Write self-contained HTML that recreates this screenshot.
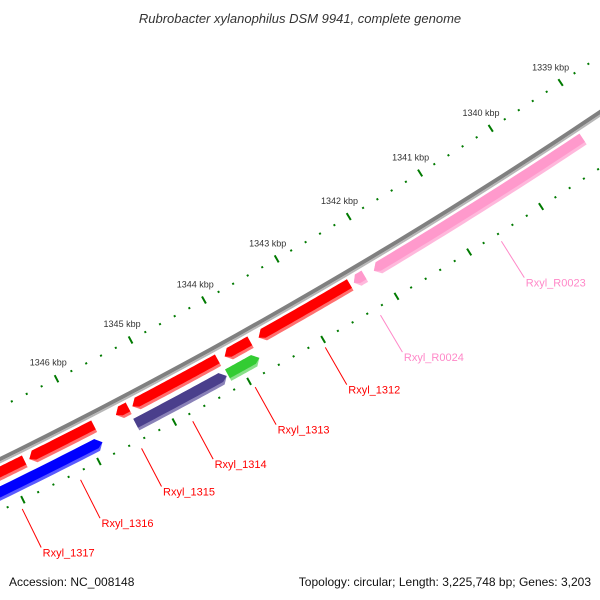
<!DOCTYPE html>
<html><head><meta charset="utf-8"><style>
html,body{margin:0;padding:0;background:#fff;}
svg{display:block;}
</style></head><body>
<svg id="map" width="600" height="600" viewBox="0 0 600 600" xmlns="http://www.w3.org/2000/svg" style="font-family:'Liberation Sans',sans-serif">
<rect width="600" height="600" fill="#fff"/>
<text x="300" y="23" text-anchor="middle" font-size="13" font-style="italic" fill="#333">Rubrobacter xylanophilus DSM 9941, complete genome</text>
<g id="plot"></g>
<text x="9" y="586" font-size="12" fill="#111">Accession: NC_008148</text>
<text x="591" y="586" font-size="12" fill="#111" text-anchor="end">Topology: circular; Length: 3,225,748 bp; Genes: 3,203</text>
</svg>
<script>
// ---- data ----
var featureNames = ["Rxyl_R0023","Rxyl_R0024","Rxyl_1312","feat_b","feat_c","Rxyl_1315","Rxyl_1316","Rxyl_1317","Rxyl_1313","Rxyl_1314","feat_i"];
var featureStart = [1339150,1342200,1342400,1343760,1344200,1345400,1345860,1346780,1343760,1344200,1345860];
var featureEnd   = [1342075,1342350,1343650,1344110,1345350,1345570,1346720,1347330,1344180,1345410,1348500];
var featureStrand = [1,1,1,1,1,1,1,1,-1,-1,-1];
var featureColor = ["#ff99cc","#ff99cc","#ff0000","#ff0000","#ff0000","#ff0000","#ff0000","#ff0000","#33cc33","#4a3f8c","#0000ff"];
var featureLight = ["#ffb8dc","#ffb8dc","#ff7070","#ff7070","#ff7070","#ff7070","#ff7070","#ff7070","#88e088","#8a82b8","#5a5aff"];
var featureLabeled = [true,true,true,false,false,true,true,true,true,true,false];
var labelColor = ["#ff88c8","#ff88c8","#ff0000","#ff0000","#ff0000","#ff0000","#ff0000","#ff0000","#ff0000","#ff0000","#ff0000"];
var tickStart = 1338600, tickEnd = 1348200, tickStep = 200;
var kbpLabels = [1339,1340,1341,1342,1343,1344,1345,1346];

// ---- geometry ----
var CX=-2268, CY=-4154;
function ang(bp){ return (58.15 + (bp-1341000)*0.00094)*Math.PI/180; }
function pt(r,bp){ var a=ang(bp); return [CX+r*Math.cos(a), CY+r*Math.sin(a)]; }
var NS="http://www.w3.org/2000/svg";
var plot=document.getElementById('plot');
function mk(tag,attrs){ var e=document.createElementNS(NS,tag); for(var k in attrs) e.setAttribute(k,attrs[k]); plot.appendChild(e); return e; }
function band(r1,r2,b1,b2){ var pts=[],n=30,i; for(i=0;i<=n;i++) pts.push(pt(r1,b1+(b2-b1)*i/n)); for(i=n;i>=0;i--) pts.push(pt(r2,b1+(b2-b1)*i/n)); return pts; }
function poly(pts){ return pts.map(function(p){return p[0].toFixed(2)+','+p[1].toFixed(2);}).join(' '); }

// backbone
var bb=mk('polygon',{points:poly(band(5138.5,5142.5,1338000,1349000)),fill:'#808080'});


var bb2=mk('polygon',{points:poly(band(5142.5,5144.5,1338000,1349000)),fill:'#b8b8b8'});



// ticks
for(var bp=tickStart; bp<=tickEnd; bp+=tickStep){
  var major = (bp%1000===0);
  [5094,5187].forEach(function(rc,ri){
    var h = major?4:1;
    var a=pt(rc-h,bp), b=pt(rc+h,bp);
    var t=mk('line',{x1:a[0],y1:a[1],x2:b[0],y2:b[1],stroke:'#007a00','stroke-width':major?2:2});
    
    
  });
}
kbpLabels.forEach(function(k){
  var p=pt(5076,k*1000);
  var t=mk('text',{x:p[0],y:p[1]+3,'font-size':'9','text-anchor':'middle',fill:'#333'});
  t.textContent=k+' kbp';
  
  
});

// features
featureNames.forEach(function(nm,i){
  var fwd=featureStrand[i]>0;
  var r1=fwd?5147:5165, r2=fwd?5160:5178, rm=fwd?5157:5175;
  var s=featureStart[i], e=featureEnd[i];
  var head=Math.min(70,(e-s)*0.4);
  function shape(ra,rb){
    var pts=[],n=30,j, mid=(r1+r2)/2;
    if(fwd){
      var b2=e-head;
      for(j=0;j<=n;j++) pts.push(pt(ra,s+(b2-s)*j/n));
      pts.push(pt(mid,e));
      for(j=n;j>=0;j--) pts.push(pt(rb,s+(b2-s)*j/n));
    } else {
      var b1=s+head;
      pts.push(pt(mid,s));
      for(j=0;j<=n;j++) pts.push(pt(ra,b1+(e-b1)*j/n));
      for(j=n;j>=0;j--) pts.push(pt(rb,b1+(e-b1)*j/n));
    }
    return pts;
  }
  var g=document.createElementNS(NS,'g'); plot.appendChild(g);
  
  
  var p1=document.createElementNS(NS,'polygon'); p1.setAttribute('points',poly(shape(r1,r2))); p1.setAttribute('fill',featureLight[i]); g.appendChild(p1);
  
  
  var p2=document.createElementNS(NS,'polygon'); p2.setAttribute('points',poly(shape(r1,rm))); p2.setAttribute('fill',featureColor[i]); g.appendChild(p2);
  
  
  if(featureLabeled[i]){
    var c=(s+Math.min(e,1347330))/2;
    if(nm==="Rxyl_1317") c=(s+e)/2;
    var a=pt(5195,c), b=pt(5238,c);
    var ln=mk('line',{x1:a[0],y1:a[1],x2:b[0],y2:b[1],stroke:labelColor[i],'stroke-width':1});
    
    
    var tx=mk('text',{x:b[0]+1.5,y:b[1]+9,'font-size':'11',fill:labelColor[i]});
    tx.textContent=nm;
    
    
  }
});
</script>
</body></html>
